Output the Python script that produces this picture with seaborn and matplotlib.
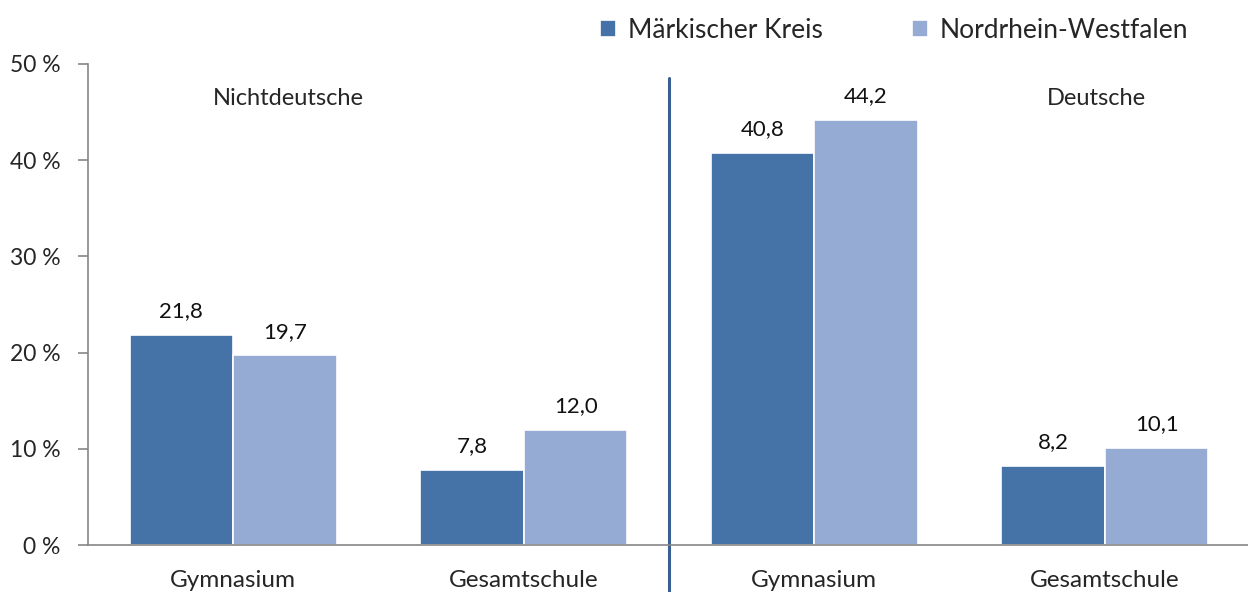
import pandas as pd
import matplotlib.pyplot as plt
import seaborn as sns
import numpy as np

# Daten
gruppen = ["Nichtdeutsche", "Nichtdeutsche", "Deutsche", "Deutsche"]
schulformen = ["Gymnasium", "Gesamtschule", "Gymnasium", "Gesamtschule"]
maerkischer_kreis = [21.8, 7.8, 40.8, 8.2]
nrw = [19.7, 12.0, 44.2, 10.1]
serien = ["Märkischer Kreis", "Nordrhein-Westfalen"]
y_ticks = [0, 10, 20, 30, 40, 50]

farben = ["#4573a7", "#95abd3"]

keys = [f"{g}_{s}" for g, s in zip(gruppen, schulformen)]
df = pd.DataFrame({
    "key": keys * 2,
    "wert": maerkischer_kreis + nrw,
    "serie": [serien[0]] * 4 + [serien[1]] * 4,
})

sns.set_style("white")
plt.rcParams["font.family"] = ["Lato", "DejaVu Sans"]

fig = plt.figure(figsize=(12.48, 5.92), dpi=100)
ax = fig.add_axes([88 / 1248, 47 / 592, 1162 / 1248, 481 / 592])

sns.barplot(data=df, x="key", y="wert", hue="serie", order=keys,
            hue_order=serien, palette=farben, width=0.714, gap=0,
            saturation=1, edgecolor="white", linewidth=1.2, ax=ax, legend=True)

for cont, werte in zip(ax.containers, [maerkischer_kreis, nrw]):
    ax.bar_label(cont, labels=[f"{v:.1f}".replace(".", ",") for v in werte],
                 padding=10, fontsize=16, color="#111111")

ax.set_xlim(-0.5, 3.5)
ax.set_ylim(0, 50)
ax.set_yticks(y_ticks)
ax.set_yticklabels([f"{t} %" for t in y_ticks], fontsize=16.5)
ax.set_xticks(range(4))
ax.set_xticklabels(schulformen, fontsize=17.5)
ax.set_xticks(np.arange(-0.5, 4, 1), minor=True)
ax.tick_params(axis="x", which="major", length=0, pad=18)
ax.tick_params(axis="x", which="minor", length=7, width=1.2, color="#868686", direction="out")
ax.tick_params(axis="y", length=7, width=1.2, color="#868686", direction="out", pad=13, left=True)
ax.set_xlabel("")
ax.set_ylabel("")

for side in ["top", "right"]:
    ax.spines[side].set_visible(False)
for side in ["left", "bottom"]:
    ax.spines[side].set_color("#868686")
    ax.spines[side].set_linewidth(1.2)

ax.axvline(1.5, ymin=-0.098, ymax=0.971, color="#3a5f93", linewidth=2.2, clip_on=False)

ax.text(0.19, 46.4, "Nichtdeutsche", ha="center", va="center", fontsize=17)
ax.text(2.97, 46.4, "Deutsche", ha="center", va="center", fontsize=17)

leg = ax.legend(loc="center right", bbox_to_anchor=(0.947, 1.07), ncol=2, frameon=False,
                fontsize=19, handlelength=0.6, handleheight=0.6, handletextpad=0.45,
                columnspacing=3.4, borderaxespad=0, borderpad=0)

fig.savefig("out.png", dpi=100)
